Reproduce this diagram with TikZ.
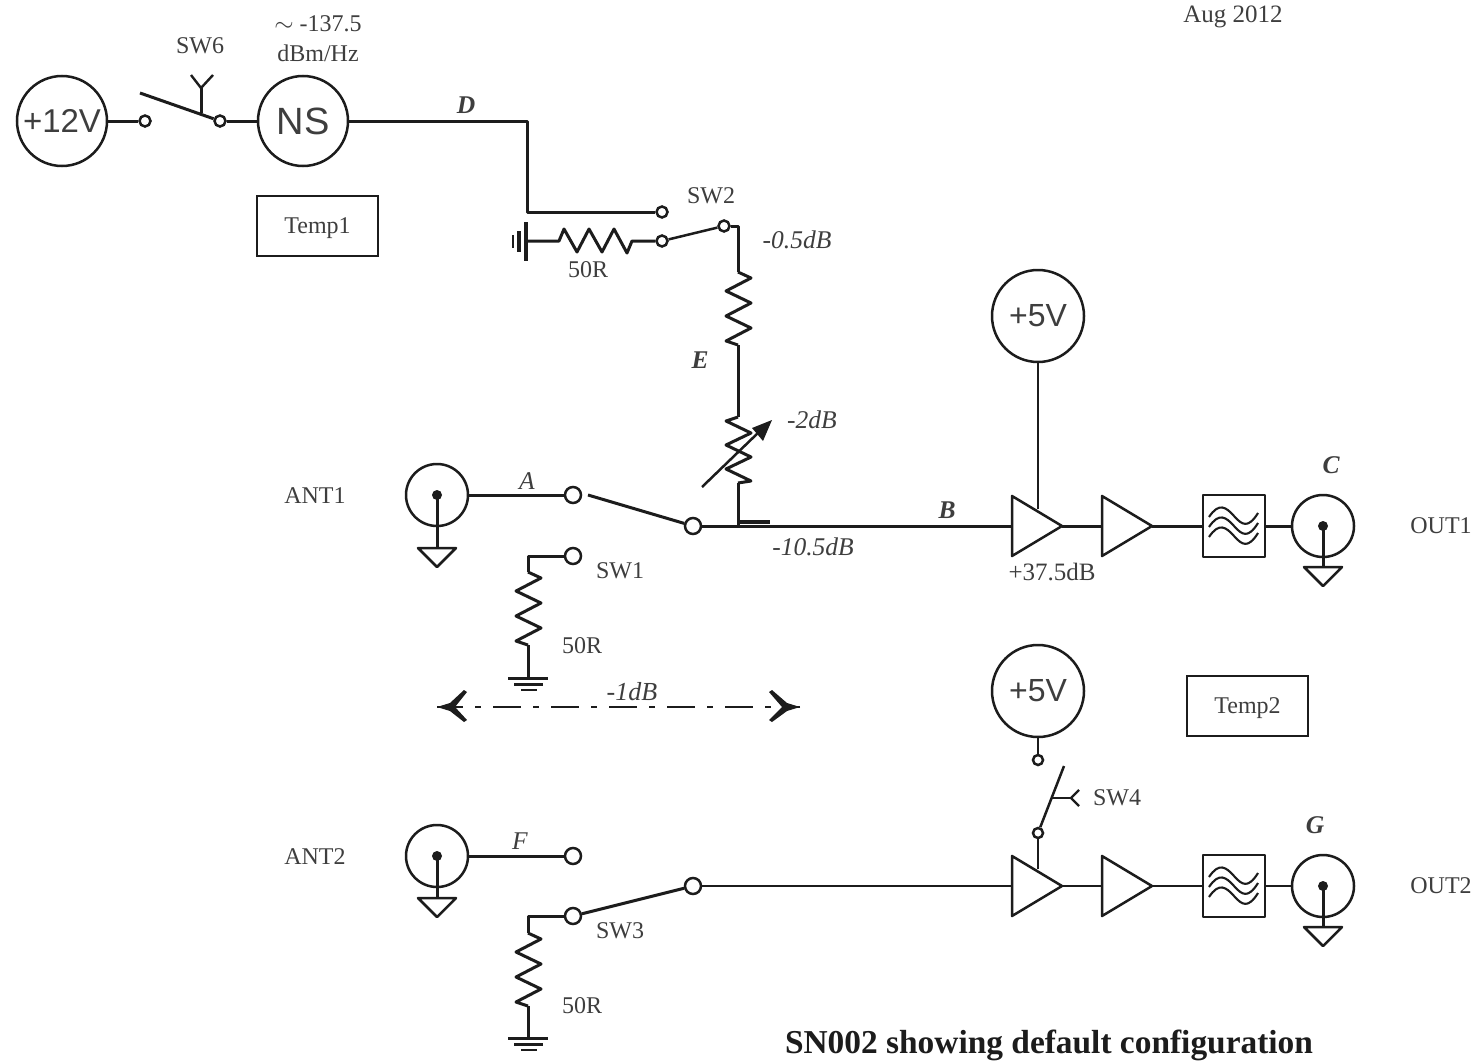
\documentclass[tikz,border=0pt]{standalone}
\usepackage{fontspec}
\setmainfont{Liberation Serif}
\setsansfont{Liberation Sans}
\usetikzlibrary{calc}
\definecolor{ink}{HTML}{1C1C1C}
\definecolor{txt}{HTML}{3E3E3E}
\tikzset{
 x=1pt,y=-1pt,
 wire/.style={draw=ink,line width=3pt,line join=round},
 thin wire/.style={draw=ink,line width=2.5pt,line join=round},
 src/.style={circle,draw=ink,line width=2.5pt,minimum size=#1pt,inner sep=0pt,text=txt,font=\sffamily},
 tm/.style={circle,draw=ink,line width=2.5pt,fill=white,minimum size=#1pt,inner sep=0pt},
 label/.style={text=txt,inner sep=0pt,yshift=-1pt,font=\fontsize{24}{26}\selectfont},
 ilabel/.style={text=txt,inner sep=0pt,font=\fontsize{25.5}{28}\selectfont\itshape},
 tempbox/.style={draw=ink,line width=2.5pt,minimum width=121pt,minimum height=60pt,inner sep=0pt,text=txt,font=\fontsize{24}{26}\selectfont},
 coaxring/.style={circle,draw=ink,line width=2.5pt,minimum size=62pt,inner sep=0pt},
 pics/amp/.style={code={
   \coordinate (-in) at (0,0); \coordinate (-tip) at (50,0);
   \coordinate (-sup) at (26,-17);
   \draw[thin wire,fill=white] (0,-30) -- (50,0) -- (0,30) -- cycle;}},
 pics/lpf/.style={code={
   \coordinate (-in) at (-31,0); \coordinate (-out) at (31,0);
   \draw[thin wire] (-31,-31) rectangle (31,31);
   \foreach \d in {-10,0,10}
     \draw[draw=ink,line width=2.1pt] (-25,\d+1) .. controls (-15,\d-14) and (-8,\d-9) .. (0,\d) .. controls (8,\d+9) and (14,\d+13) .. (24,\d-3);}},
 pics/earth/.style={code={
   \coordinate (-top) at (0,0);
   \draw[thin wire] (-19,0) -- (19,0) -- (0,19) -- cycle;}},
 pics/gnd/.style={code={
   \coordinate (-top) at (0,0);
   \draw[wire] (-20,0) -- (20,0);
   \draw[wire] (-14,6) -- (15,6);
   \draw[wire,line width=2.4pt] (-7,12) -- (9,12);}},
 pics/zig/.style={code={
   \coordinate (-in) at (0,0); \coordinate (-out) at (0,73);
   \draw[wire] (0,0) -- (13,6) -- (-12,19) -- (13,31) -- (-12,44) -- (13,56) -- (-12,69) -- (0,73);}},
 pics/zigv/.style={code={
   \coordinate (-in) at (0,0); \coordinate (-out) at (0,66);
   \draw[wire] (0,0) -- (-12,4) -- (13,16) -- (-12,28) -- (13,40) -- (-12,52) -- (13,64) -- (0,66);}},
}
\begin{document}
\begin{tikzpicture}
\useasboundingbox (0,0) rectangle (1471,1060);
\fill[white] (0,0) rectangle (1471,1060);

% top row
\node[src=90,font=\sffamily\fontsize{33}{36}\selectfont] (v12) at (62,121) {+12V};
\node[src=90,font=\sffamily\fontsize{38}{40}\selectfont] (ns) at (303,121) {NS};
\node[tm=11] (t6a) at (145,121) {};
\node[tm=11] (t6b) at (220,121) {};
\coordinate (arm6) at (140,93);
\coordinate (act6) at (201,113);
\coordinate (yo6) at (201,88);
\coordinate (yl6) at (191,75);
\coordinate (yr6) at (213,75);
\draw[wire] (v12) -- (t6a);
\draw[wire] (t6b) -- (ns);
\draw[wire] (arm6) -- (t6b);
\draw[wire] (act6) -- (yo6);
\draw[wire,line width=2.4pt] (yl6) -- (yo6) -- (yr6);
\node[label] (lsw6) at (200,45) {SW6};
\node[label] (lns1) at (318,23) {$\sim$ -137.5};
\node[label] (lns2) at (318,52) {dBm/Hz};
\node[tempbox] (temp1) at (317.5,226) {\raisebox{-7.5pt}[0pt][0pt]{Temp1}};
\node[ilabel] (ld) at (466,105) {\textbf{D}};
\node[label,font=\fontsize{25}{28}\selectfont] (ldate) at (1233,16) {Aug 2012};

% SW2
\node[tm=11] (t2a) at (662,212) {};
\node[tm=11] (t2b) at (662,241) {};
\node[tm=11] (t2c) at (724,226) {};
\coordinate (dn) at (527,121);
\coordinate (dn2) at (527,212);
\draw[wire] (ns) -- (dn) -- (dn2) -- (t2a);
\draw[wire,line width=2.5pt] (t2b) -- (t2c);
\coordinate (g2) at (527,241);
\coordinate (rh1) at (632,241);
\coordinate (rh2) at (559,241);
\draw[wire] (t2b) -- (rh1) -- (627,253) -- (614,229) -- (602,252) -- (589,229) -- (577,252) -- (564,229) -- (rh2) -- (g2);
\draw[wire,line width=3.6pt] (526,222) -- (526,261);
\draw[wire,line width=3.4pt] (519,231) -- (519,252);
\draw[wire,line width=2.6pt] (513,235) -- (513,248);
\node[label] (l50a) at (588,269) {50R};
\node[label] (lsw2) at (711,195) {SW2};
\node[ilabel] (l05) at (797,240) {-0.5dB};
\node[ilabel] (le) at (700,360) {\textbf{E}};
\node[ilabel] (l2) at (812,420) {-2dB};

% series attenuators
\pic (r1) at (738,272) {zig};
\pic (r2) at (738,417) {zigv};
\coordinate (c2) at (738,226);
\node[tm=16] (tout1) at (693,526) {};
\coordinate (j1) at (738,526);
\draw[wire] (t2c) -- (c2) -- (r1-in);
\draw[wire] (r1-out) -- (r2-in);
\draw[wire] (r2-out) -- (j1);
\draw[wire,line width=4.5pt] (738,522) -- (770,522);
\coordinate (va) at (702,487);
\coordinate (vb) at (772,420);
\draw[wire,line width=2.5pt] (va) -- (760,431);
\fill[ink] (vb) -- (752,428) -- (763,441) -- cycle;

% ANT1 chain
\node[coaxring] (ant1) at (437,495) {};
\node[tm=16] (t1a) at (573,495) {};
\node[tm=16] (t1b) at (573,556) {};
\draw[wire] (ant1) -- (t1a);
\fill[ink] (437,495) circle (5);
\pic (e1) at (437,548) {earth};
\draw[wire] (437,495) -- (e1-top);
\coordinate (arm1) at (588,495);
\draw[wire] (arm1) -- (tout1);
\node[label] (lant1) at (315,495) {ANT1};
\node[ilabel] (la) at (527,481) {A};
\node[label] (lsw1) at (620,570) {SW1};
\pic (r3) at (528,572) {zig};
\coordinate (c3) at (528,556);
\pic (g3) at (528,678) {gnd};
\draw[wire] (t1b) -- (c3) -- (r3-in);
\draw[wire] (r3-out) -- (g3-top);
\node[label] (l50b) at (582,645) {50R};

\pic (a1) at (1012,526) {amp};
\pic (a2) at (1102,526) {amp};
\pic (f1) at (1234,526) {lpf};
\node[coaxring] (out1) at (1323,526) {};
\pic (e2) at (1323,567) {earth};
\draw[wire] (tout1) -- (a1-in);
\draw[wire] (a1-tip) -- (a2-in);
\draw[wire] (a2-tip) -- (f1-in);
\draw[wire] (f1-out) -- (out1);
\fill[ink] (1323,526) circle (5);
\draw[wire] (1323,526) -- (e2-top);
\node[src=92,font=\sffamily\fontsize{32}{34}\selectfont] (v5a) at (1038,316) {+5V};
\draw[thin wire] (v5a) -- (a1-sup);
\node[ilabel] (lb) at (947,510) {\textbf{B}};
\node[ilabel] (l105) at (813,547) {-10.5dB};
\node[label,font=\fontsize{25}{28}\selectfont] (l375) at (1052,571) {+37.5dB};
\node[ilabel] (lc) at (1331,465) {\textbf{C}};
\node[label] (lout1) at (1441,525) {OUT1};

% isolation arrow
\coordinate (dl) at (437,707);
\coordinate (dr) at (800,707);
\draw[wire,line width=2.5pt,dash pattern=on 6pt off 12pt on 28pt off 12pt,dash phase=20pt] (dl) -- (dr);
\fill[ink] (dl) -- (450,703) -- (464,690) -- (467,692) -- (455,707) -- (467,720) -- (464,722) -- (450,711) -- cycle;
\fill[ink] (dr) -- (787,703) -- (772,690) -- (769,692) -- (782,707) -- (769,720) -- (772,722) -- (787,711) -- cycle;
\node[ilabel,font=\fontsize{26}{28}\selectfont\itshape] (l1) at (632,692) {-1dB};

% ANT2 chain
\node[coaxring] (ant2) at (437,856) {};
\node[tm=16] (t3a) at (573,856) {};
\node[tm=16] (t3b) at (573,916) {};
\node[tm=16] (t3c) at (693,886) {};
\draw[wire] (ant2) -- (t3a);
\fill[ink] (437,856) circle (5);
\pic (e3) at (437,898) {earth};
\draw[wire] (437,856) -- (e3-top);
\draw[wire] (t3b) -- (t3c);
\node[label] (lant2) at (315,856) {ANT2};
\node[ilabel] (lf) at (520,841) {F};
\node[label] (lsw3) at (620,930) {SW3};
\pic (r4) at (528,933) {zig};
\coordinate (c4) at (528,916);
\pic (g4) at (528,1038) {gnd};
\draw[wire] (t3b) -- (c4) -- (r4-in);
\draw[wire] (r4-out) -- (g4-top);
\node[label] (l50c) at (582,1005) {50R};

\pic (a3) at (1012,886) {amp};
\pic (a4) at (1102,886) {amp};
\pic (f2) at (1234,886) {lpf};
\node[coaxring] (out2) at (1323,886) {};
\pic (e4) at (1323,927) {earth};
\draw[thin wire] (t3c) -- (a3-in);
\draw[thin wire] (a3-tip) -- (a4-in);
\draw[thin wire] (a4-tip) -- (f2-in);
\draw[thin wire] (f2-out) -- (out2);
\fill[ink] (1323,886) circle (5);
\draw[wire] (1323,886) -- (e4-top);
\node[src=92,font=\sffamily\fontsize{32}{34}\selectfont] (v5b) at (1038,691) {+5V};
\node[tm=10] (t4a) at (1038,760) {};
\node[tm=10] (t4b) at (1038,833) {};
\draw[thin wire] (v5b) -- (t4a);
\draw[thin wire] (t4b) -- (a3-sup);
\coordinate (arm4) at (1064,766);
\coordinate (yo4) at (1071,798);
\draw[wire,line width=2.5pt] (t4b) -- (arm4);
\draw[wire,line width=2.5pt] (1052,798) -- (yo4);
\draw[wire,line width=2.4pt] (1079,790) -- (yo4) -- (1079,806);
\node[label] (lsw4) at (1117,797) {SW4};
\node[tempbox] (temp2) at (1247.5,706) {\raisebox{-7.5pt}[0pt][0pt]{Temp2}};
\node[ilabel] (lg) at (1315,825) {\textbf{G}};
\node[label] (lout2) at (1441,885) {OUT2};

\node[text=ink,inner sep=0pt,font=\fontsize{33.4}{36}\selectfont\bfseries] (title) at (1049,1045) {SN002 showing default configuration};
\end{tikzpicture}
\end{document}
